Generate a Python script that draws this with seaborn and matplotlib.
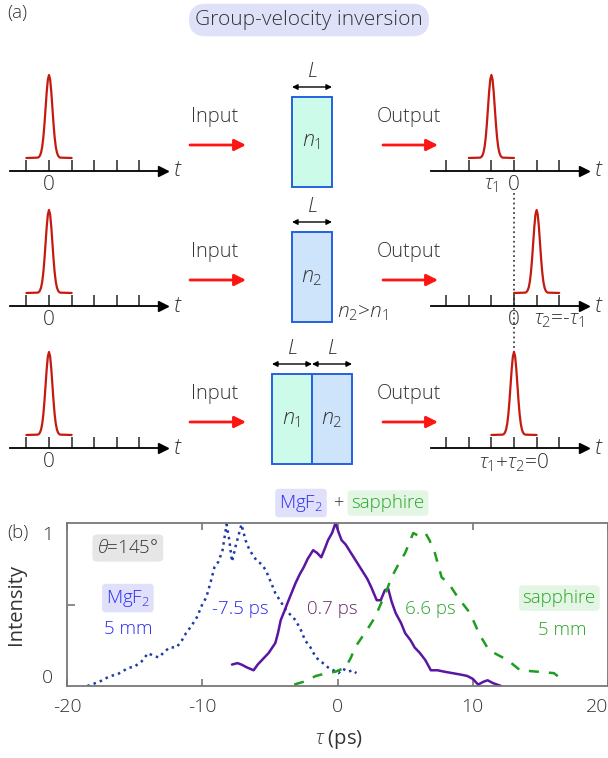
import numpy as np
import pandas as pd
import matplotlib.pyplot as plt
import seaborn as sns
from matplotlib.patches import Rectangle

sns.set_style('white')
plt.rcParams['font.family'] = ['Open Sans', 'DejaVu Sans']
plt.rcParams['font.weight'] = 'light'
plt.rcParams['mathtext.fontset'] = 'custom'
plt.rcParams['mathtext.rm'] = 'Open Sans'
plt.rcParams['mathtext.it'] = 'Open Sans:italic'
plt.rcParams['mathtext.fallback'] = 'stixsans'
plt.rcParams['axes.unicode_minus'] = False

W, H = 608, 758
TXT = '#333333'

# ---- panel (b): measured traces (tau in ps, normalised intensity) ----
mgf2_tau = [-18.5, -17.6, -16.8, -16.3, -15.4, -15.1, -14.5, -14.0, -13.6, -13.2, -12.8,
            -12.4, -11.9, -11.5, -11.2, -10.8, -10.4, -10.0, -9.7, -9.4, -9.1, -8.8, -8.5,
            -8.2, -8.0, -7.8, -7.5, -7.1, -6.8, -6.5, -6.0, -5.6, -5.3, -4.9, -4.6, -4.2,
            -3.8, -3.4, -3.1, -2.7, -2.4, -2.0, -1.6, -1.2, -0.7, -0.3, 0.07, 0.4, 0.8, 1.1, 1.4]
mgf2_int = [-0.07, -0.04, 0.0, 0.01, 0.06, 0.06, 0.10, 0.16, 0.14, 0.13, 0.17,
            0.20, 0.20, 0.25, 0.30, 0.35, 0.41, 0.50, 0.55, 0.65, 0.76, 0.80, 0.88,
            1.06, 0.95, 0.80, 0.92, 1.06, 0.95, 0.88, 0.81, 0.78, 0.74, 0.65, 0.58, 0.52,
            0.46, 0.42, 0.39, 0.32, 0.25, 0.20, 0.13, 0.10, 0.06, 0.04, 0.02, 0.05, 0.03, 0.04, 0.02]

combo_tau = [-7.8, -7.4, -7.1, -6.7, -6.2, -5.9, -5.6, -5.1, -4.6, -4.4, -4.2, -3.9, -3.7,
             -3.4, -3.1, -2.8, -2.5, -2.2, -1.8, -1.5, -1.2, -0.9, -0.7, -0.4, -0.15, 0.1,
             0.3, 0.6, 1.0, 1.4, 1.8, 2.2, 2.5, 2.9, 3.2, 3.5, 3.75, 4.0, 4.3, 4.7, 5.0, 5.4,
             5.7, 6.1, 6.5, 6.9, 7.4, 7.9, 8.5, 9.1, 9.6, 10.0, 10.4, 10.8, 11.1, 11.5, 12.1]
combo_int = [0.08, 0.09, 0.08, 0.06, 0.04, 0.08, 0.11, 0.16, 0.23, 0.30, 0.39, 0.46, 0.51,
             0.58, 0.65, 0.71, 0.76, 0.82, 0.88, 0.86, 0.83, 0.90, 0.95, 1.0, 1.07, 1.0,
             0.95, 0.92, 0.86, 0.80, 0.74, 0.68, 0.62, 0.53, 0.53, 0.60, 0.61, 0.52, 0.44,
             0.37, 0.30, 0.25, 0.20, 0.16, 0.11, 0.04, 0.04, 0.03, 0.02, 0.01, 0.0, -0.02,
             -0.06, -0.04, -0.03, -0.05, -0.07]

sapph_tau = [-3.2, -2.5, -1.6, -0.8, -0.15, 0.6, 1.0, 1.3, 1.8, 2.3, 2.7, 3.0, 3.6, 4.0,
             4.5, 5.0, 5.3, 5.6, 6.0, 6.5, 6.8, 7.2, 7.7, 8.2, 8.9, 9.8, 10.5, 11.2, 12.6,
             13.5, 14.8, 16.0, 16.4, 16.8]
sapph_int = [-0.06, -0.04, 0.0, 0.02, 0.03, 0.06, 0.13, 0.20, 0.27, 0.34, 0.40, 0.46, 0.59,
             0.69, 0.78, 0.86, 0.93, 1.0, 0.98, 1.0, 0.95, 0.86, 0.69, 0.65, 0.55, 0.44, 0.29,
             0.18, 0.11, 0.04, 0.03, 0.02, -0.01, -0.05]

# ---- panel (a): schematic ----
pulse_off = [-1.0, -0.5, -0.45, -0.4, -0.35, -0.3, -0.25, -0.2, -0.15, -0.1, -0.05, 0.0,
             0.05, 0.1, 0.15, 0.2, 0.25, 0.3, 0.35, 0.4, 0.45, 0.5, 1.0]
pulse_amp = [0.0, 0.004, 0.011, 0.029, 0.066, 0.135, 0.249, 0.411, 0.607, 0.801, 0.946, 1.0,
             0.946, 0.801, 0.607, 0.411, 0.249, 0.135, 0.066, 0.029, 0.011, 0.004, 0.0]
ticks_in = [-1, 0, 1, 2, 3, 4]
ticks_out = [-3, -2, -1, 0, 1, 2]
out_pulse = [-1, 1, 0]
out_labels = [{-1: r'$\tau_1$', 0: '0'},
              {0: '0', 2: r'$\tau_2$=-$\tau_1$'},
              {0: r'$\tau_1$+$\tau_2$=0'}]
crystals = [[r'$n_1$'], [r'$n_2$'], [r'$n_1$', r'$n_2$']]
crystal_fc = {r'$n_1$': '#cdfbe9', r'$n_2$': '#cde4fb'}

fig = plt.figure(figsize=(W / 100, H / 100), dpi=100)
ov = fig.add_axes([0, 0, 1, 1])
ov.set_xlim(0, W)
ov.set_ylim(H, 0)
ov.axis('off')

row_y = [171, 306, 448]
tick_px = 22.6


def time_axis(x_left, x_right, x_zero, y_axis, steps, pulse_at, labels):
    ax = fig.add_axes([x_left / W, 1 - (y_axis) / H, (x_right - x_left) / W, 100 / H])
    ax.set_xlim((x_left - x_zero) / tick_px, (x_right - x_zero) / tick_px)
    ax.set_ylim(-0.157, 1.048)
    ax.patch.set_visible(False)
    for s in ['top', 'right', 'left']:
        ax.spines[s].set_visible(False)
    ax.spines['bottom'].set_color('k')
    ax.spines['bottom'].set_linewidth(1.3)
    ax.set_yticks([])
    ax.set_xticks(steps)
    ax.set_xticklabels([labels.get(s, '') for s in steps])
    ax.tick_params(axis='x', direction='in', length=8, width=1.1, pad=3,
                   labelsize=15, labelcolor=TXT, bottom=True)
    px = [pulse_at + o for o in pulse_off]
    sns.lineplot(x=px, y=pulse_amp, ax=ax, color='#c41a10', lw=1.6,
                 sort=False, estimator=None)
    ax.plot(1, 0, '>', color='k', ms=7, transform=ax.transAxes, clip_on=False)
    ax.annotate('$t$', xy=(1, 0), xycoords='axes fraction', xytext=(7, 0),
                textcoords='offset points', ha='left', va='center', fontsize=16, color=TXT)
    return ax


for i, y in enumerate(row_y):
    time_axis(10, 163, 49, y, ticks_in, 0, {0: '0'})
    time_axis(431, 584, 514, y, ticks_out, out_pulse[i], out_labels[i])
    # input / output arrows and words
    for xc, x0, x1, word in [(215, 190, 246, 'Input'), (409, 383, 438, 'Output')]:
        ov.text(xc, y - 54, word, ha='center', va='center', fontsize=14.5, color=TXT)
        ov.annotate('', xy=(x1, y - 26), xytext=(x0, y - 26),
                    arrowprops=dict(arrowstyle='-|>', color='#ff1414', lw=2,
                                    mutation_scale=17, shrinkA=0, shrinkB=0))
    # crystals
    names = crystals[i]
    width = 40
    x_start = 312 - width * len(names) / 2
    for j, nm in enumerate(names):
        x0 = x_start + j * width
        ov.add_patch(Rectangle((x0, y - 74), width, 90, fc=crystal_fc[nm], ec='#2461e0', lw=1.4))
        ov.text(x0 + width / 2, y - 29, nm, ha='center', va='center', fontsize=15.5, color=TXT)
        ov.annotate('', xy=(x0, y - 84), xytext=(x0 + width, y - 84),
                    arrowprops=dict(arrowstyle='<|-|>', color='k', lw=1,
                                    mutation_scale=8, shrinkA=0, shrinkB=0))
        ov.text(x0 + width / 2, y - 99, '$L$', ha='center', va='center', fontsize=15, color=TXT)

ov.text(337, 313, r'$n_2$>$n_1$', ha='left', va='center', fontsize=15, color=TXT)
ov.plot([514, 514], [193, 356], color='#444444', ls=':', lw=1.3)

ov.text(7, 13, '(a)', ha='left', va='center', fontsize=13.5, color=TXT)
ov.text(309, 20, 'Group-velocity inversion', ha='center', va='center', fontsize=15, color=TXT,
        bbox=dict(boxstyle='round,pad=0.3,rounding_size=0.8', fc='#dfe1f9', ec='none'))

# header of panel (b)
ov.text(301, 503, r'MgF$_2$', ha='center', va='center', fontsize=13.5, color='#2b2bf0',
        bbox=dict(boxstyle='round,pad=0.2', fc='#e0e0fb', ec='none'))
ov.text(338, 503, '+', ha='center', va='center', fontsize=13, color=TXT)
ov.text(388, 503, 'sapphire', ha='center', va='center', fontsize=13.5, color='#2aa52a',
        bbox=dict(boxstyle='round,pad=0.2', fc='#e3f6e3', ec='none'))
ov.text(7, 533, '(b)', ha='left', va='center', fontsize=13.5, color=TXT)

# ---- panel (b) axes ----
axb = fig.add_axes([67 / W, 1 - 686 / H, (W - 67) / W, 163 / H])
axb.patch.set_facecolor('none')
sns.lineplot(x=mgf2_tau, y=mgf2_int, ax=axb, color='#1f3aa6', lw=1.8, ls=':',
             sort=False, estimator=None)
sns.lineplot(x=combo_tau, y=combo_int, ax=axb, color='#5a16a0', lw=1.8,
             sort=False, estimator=None)
sns.lineplot(x=sapph_tau, y=sapph_int, ax=axb, color='#1e9e1e', lw=1.8, ls=(0, (4, 4)),
             sort=False, estimator=None)
axb.set_xlim(-20, 19.8)
axb.set_ylim(-0.07, 1.07)
axb.set_xticks([-20, -10, 0, 10, 20])
axb.set_yticks([0, 0.5, 1])
axb.set_yticklabels(['0', '', '1'])
axb.tick_params(axis='x', direction='in', length=5, width=1.2, top=True, bottom=True,
                labelsize=14, labelcolor=TXT, pad=9, color='#777777')
axb.tick_params(axis='y', direction='in', length=6, width=1.2, left=True,
                labelsize=14, labelcolor=TXT, pad=10, color='#777777')
axb.get_xticklabels()[-1].set_horizontalalignment('right')
for k in [0, 2]:
    axb.yaxis.get_major_ticks()[k].tick1line.set_visible(False)
for s in axb.spines.values():
    s.set_color('#777777')
    s.set_linewidth(1.3)
axb.set_xlabel(r'$\tau$ (ps)', fontsize=14.5, color=TXT, va='center')
axb.xaxis.set_label_coords(0.503, -0.33)
axb.set_ylabel('Intensity', fontsize=14.5, color=TXT, va='center')
axb.yaxis.set_label_coords(-0.094, 0.5)

axb.text(-15.5, 0.895, r'$\theta$=145°', ha='center', va='center', fontsize=13.5, color=TXT,
         bbox=dict(boxstyle='round,pad=0.25', fc='#e6e6e6', ec='none'))
axb.text(-15.5, 0.545, r'MgF$_2$', ha='center', va='center', fontsize=13.5, color='#2b2bf0',
         bbox=dict(boxstyle='round,pad=0.2', fc='#e0e0fb', ec='none'))
axb.text(-15.5, 0.33, '5 mm', ha='center', va='center', fontsize=13.5, color='#2b2bf0')
axb.text(-7.2, 0.47, '-7.5 ps', ha='center', va='center', fontsize=13.5, color='#2b2bf0')
axb.text(-0.37, 0.47, '0.7 ps', ha='center', va='center', fontsize=13.5, color='#6a2a6a')
axb.text(6.84, 0.47, '6.6 ps', ha='center', va='center', fontsize=13.5, color='#2aa52a')
axb.text(16.4, 0.545, 'sapphire', ha='center', va='center', fontsize=13.5, color='#2aa52a',
         bbox=dict(boxstyle='round,pad=0.2', fc='#e3f6e3', ec='none'))
axb.text(16.6, 0.32, '5 mm', ha='center', va='center', fontsize=13.5, color='#2aa52a')

fig.savefig('out.png', dpi=100)
